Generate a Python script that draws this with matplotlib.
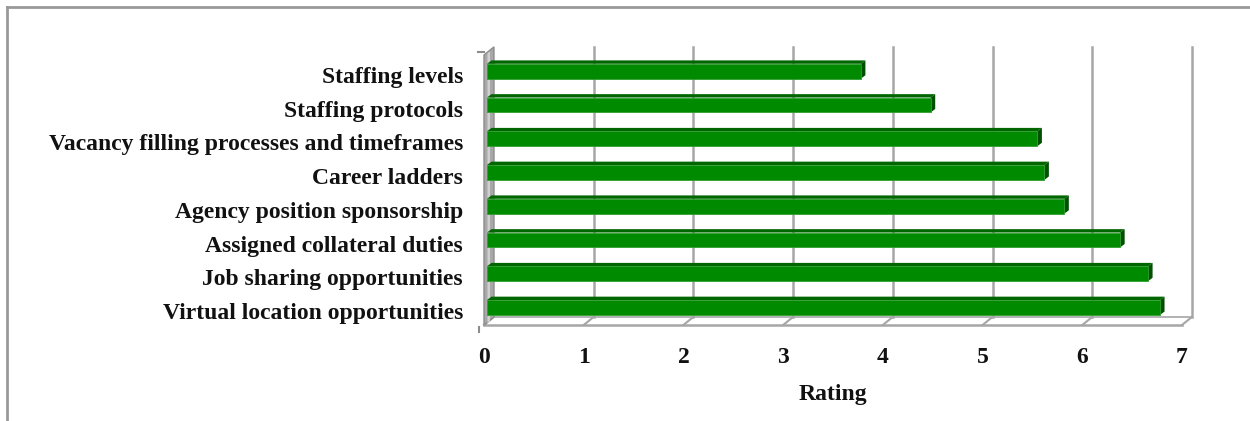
import matplotlib
matplotlib.use("Agg")
import matplotlib.pyplot as plt
from matplotlib.patches import Polygon
from matplotlib.lines import Line2D

# ratings per staffing item, top to bottom
categories = [
    "Staffing levels",
    "Staffing protocols",
    "Vacancy filling processes and timeframes",
    "Career ladders",
    "Agency position sponsorship",
    "Assigned collateral duties",
    "Job sharing opportunities",
    "Virtual location opportunities",
]
ratings = [3.75, 4.45, 5.52, 5.59, 5.79, 6.35, 6.63, 6.75]
xticks = [0, 1, 2, 3, 4, 5, 6, 7]

plt.rcParams['font.family'] = ['Liberation Serif', 'DejaVu Serif']
plt.rcParams['font.weight'] = 'bold'

fig = plt.figure(figsize=(12.5, 4.21), dpi=100)
# axes covers the front plane of the 3-D box
ax = fig.add_axes([484 / 1250, (421 - 325) / 421, 698 / 1250, 270 / 421])
n = len(categories)
ax.set_xlim(0, 7)
ax.set_ylim(n - 0.5, -0.5)
ax.axis('off')

grid = '#a6a6a6'
DX, DY = 0.1, -0.24        # depth offset of the back wall
top, bot = -0.5, n - 0.5

# back wall gridlines
for k in xticks[1:]:
    ax.add_line(Line2D([k + DX, k + DX], [top + DY, bot + DY], color=grid, lw=1.8,
                       clip_on=False, zorder=1))
# floor
ax.add_line(Line2D([0, 7], [bot, bot], color=grid, lw=1.8, clip_on=False, zorder=1))
ax.add_line(Line2D([DX, 7 + DX], [bot + DY, bot + DY], color=grid, lw=1.2, clip_on=False, zorder=1))
for k in xticks:
    ax.add_line(Line2D([k, k + DX], [bot, bot + DY], color=grid, lw=1.5, clip_on=False, zorder=1))

# left side wall
ax.add_patch(Polygon([(0, top), (DX, top + DY), (DX, bot + DY), (0, bot)], closed=True,
                     facecolor='#a8a8a8', edgecolor='#8c8c8c', lw=1.0, clip_on=False, zorder=2))
ax.add_patch(Polygon([(0.035, top - 0.05), (0.06, top - 0.11), (0.06, bot - 0.11), (0.035, bot - 0.05)],
                     closed=True, facecolor='#d0d0d0', edgecolor='none', clip_on=False, zorder=2))

# small tick stubs at the wall corners
ax.add_line(Line2D([-0.06, 0.0], [top - 0.1, top - 0.1], color='#8c8c8c', lw=1.5, clip_on=False))
ax.add_line(Line2D([-0.05, -0.05], [bot + 0.05, bot + 0.2], color='#8c8c8c', lw=1.5, clip_on=False))

# 3-D bars: front face plus top and right faces
x0, yoff = 0.03, -0.02
bd_x, bd_y = 0.045, -0.1
h = 0.44
front = '#008a00'
ax.barh([i + yoff for i in range(n)], ratings, left=x0, height=h, color=front,
        edgecolor='#2e9e2e', linewidth=0.6, zorder=4)
for i, v in enumerate(ratings):
    yt = i + yoff - h / 2
    yb = i + yoff + h / 2
    ax.add_patch(Polygon([(x0, yt), (x0 + bd_x, yt + bd_y), (x0 + v + bd_x, yt + bd_y), (x0 + v, yt)],
                         closed=True, facecolor='#006600', edgecolor='none', zorder=3))
    ax.add_patch(Polygon([(x0 + v, yt), (x0 + v + bd_x, yt + bd_y), (x0 + v + bd_x, yb + bd_y), (x0 + v, yb)],
                         closed=True, facecolor='#005000', edgecolor='none', zorder=3))

fs = 17
# category labels
for i, c in enumerate(categories):
    ax.text(-0.21, i + 0.16, c, ha='right', va='center', fontsize=fs, fontweight='bold',
            color='#111111')
# rating ticks
for k in xticks:
    ax.text(k, bot + 0.95, str(k), ha='center', va='center', fontsize=fs, fontweight='bold',
            color='#111111')
ax.text(3.5, bot + 2.05, 'Rating', ha='center', va='center', fontsize=fs, fontweight='bold',
        color='#111111')

# outer frame: top and left edges
fig.add_artist(Line2D([7 / 1250, 1], [1 - 7 / 421, 1 - 7 / 421], transform=fig.transFigure,
                      color='#999999', lw=2))
fig.add_artist(Line2D([7 / 1250, 7 / 1250], [0, 1 - 7 / 421], transform=fig.transFigure,
                      color='#999999', lw=2))

fig.savefig('out.png', dpi=100)
